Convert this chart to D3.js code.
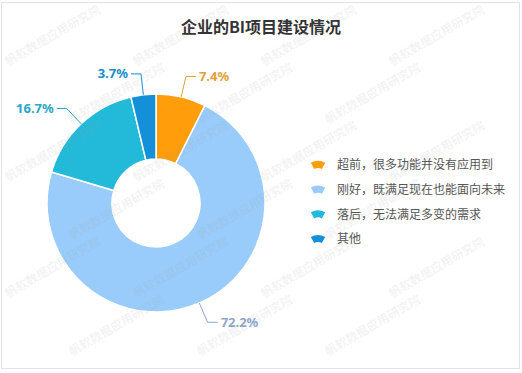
<!DOCTYPE html>
<html>
<head>
<meta charset="utf-8">
<script src="https://cdn.jsdelivr.net/npm/d3@7"></script>
<style>
  body { margin: 0; background: #fff; }
  svg { display: block; }
</style>
</head>
<body>
<div id="chart"></div>
<script>
const FRAME_WIDTH = 522;
const FRAME_HEIGHT = 373;

// data
const CATEGORIES = ["超前，很多功能并没有应用到", "刚好，既满足现在也能面向未来", "落后，无法满足多变的需求", "其他"];
const VALUES = [7.4, 72.2, 16.7, 3.7];
const COLORS = ["#ff9d0a", "#99ccfb", "#22bad8", "#1490d9"];
const LABEL_COLORS = ["#e3a036", "#8ea8c9", "#2aa6c6", "#1a8ccd"];
const TITLE = "企业的BI项目建设情况";
const WATERMARK = "帆软数据应用研究院";

const CENTER = {x: 156, y: 203};
const OUTER_R = 109;
const INNER_R = 44;

const svg = d3.select("#chart")
  .append("svg")
    .attr("width", FRAME_WIDTH)
    .attr("height", FRAME_HEIGHT)
    .style("font-family", "'Noto Sans CJK SC', 'Noto Sans', sans-serif");

// frame border
svg.append("rect")
  .attr("x", 1.5).attr("y", 2.5)
  .attr("width", 518).attr("height", 366)
  .attr("fill", "#fff")
  .attr("stroke", "#e2e2e2");

// title
svg.append("text")
  .attr("x", 261).attr("y", 33)
  .attr("text-anchor", "middle")
  .attr("font-size", "16px")
  .attr("font-weight", "bold")
  .attr("fill", "#333")
  .text(TITLE);

const pie = d3.pie().sort(null).value(d => d);
const arcs = pie(VALUES);

const arc = d3.arc().innerRadius(INNER_R).outerRadius(OUTER_R);
const edgeArc = d3.arc().innerRadius(OUTER_R).outerRadius(OUTER_R);
const elbowArc = d3.arc().innerRadius(OUTER_R + 21).outerRadius(OUTER_R + 21);

const g = svg.append("g")
  .attr("transform", "translate(" + CENTER.x + "," + CENTER.y + ")");

g.selectAll("path.slice")
  .data(arcs)
  .enter()
  .append("path")
    .attr("class", "slice")
    .attr("d", arc)
    .attr("fill", (d, i) => COLORS[i])
    .attr("stroke", "#fff")
    .attr("stroke-width", 1.5);

// label lines + labels
arcs.forEach((d, i) => {
  const p1 = edgeArc.centroid(d);
  const p2 = elbowArc.centroid(d);
  const mid = (d.startAngle + d.endAngle) / 2;
  const right = mid < Math.PI;
  const p3 = [p2[0] + (right ? 10 : -10), p2[1]];

  g.append("polyline")
    .attr("points", [p1, p2, p3].map(p => p.join(",")).join(" "))
    .attr("fill", "none")
    .attr("stroke", LABEL_COLORS[i])
    .attr("stroke-width", 1);

  g.append("text")
    .attr("x", p3[0] + (right ? 3 : -3))
    .attr("y", p3[1])
    .attr("dy", "0.35em")
    .attr("text-anchor", right ? "start" : "end")
    .attr("font-family", "'Noto Sans', sans-serif")
    .attr("font-size", "13px")
    .attr("font-weight", "bold")
    .attr("fill", LABEL_COLORS[i])
    .text(d3.format(".1f")(VALUES[i]) + "%");
});

// legend
const legendArc = d3.arc()
  .innerRadius(8).outerRadius(15)
  .startAngle(-0.5).endAngle(0.5);

const legend = svg.append("g")
  .attr("transform", "translate(318,165)");

CATEGORIES.forEach((c, i) => {
  const row = legend.append("g")
    .attr("transform", "translate(0," + (i * 24.7) + ")");
  row.append("path")
    .attr("d", legendArc)
    .attr("transform", "translate(0,11)")
    .attr("fill", COLORS[i]);
  row.append("text")
    .attr("x", 19)
    .attr("y", 0)
    .attr("dy", "0.35em")
    .attr("font-size", "12px")
    .attr("fill", "#555")
    .text(c);
});

// watermark tiles, kept inside the frame
const wm = svg.append("g")
  .attr("pointer-events", "none");
for (let r = 0; r < 6; r++) {
  for (let c = 0; c < 5; c++) {
    const x = 8 + c * 128 + (r % 2) * 64;
    const y = 66 + r * 58;
    if (x + 100 > 514 || y > 364) continue;
    wm.append("text")
      .attr("transform", "translate(" + x + "," + y + ") rotate(-30)")
      .attr("font-size", "12px")
      .attr("font-weight", "bold")
      .attr("fill", "#9a9a9a")
      .attr("fill-opacity", 0.12)
      .text(WATERMARK);
  }
}
</script>
</body>
</html>
